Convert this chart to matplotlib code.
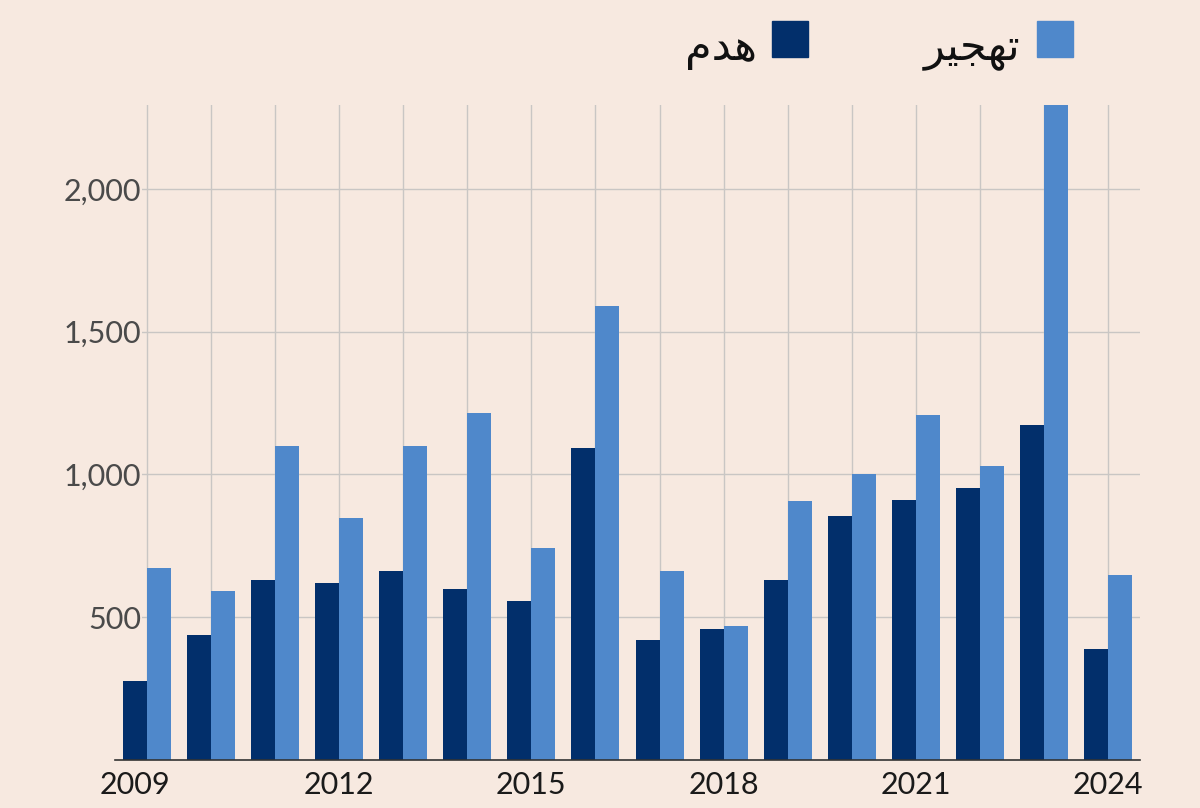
import matplotlib.pyplot as plt
import matplotlib.transforms as mtransforms
from matplotlib.patches import Rectangle
import numpy as np

years = list(range(2009, 2025))
demolition = [277, 438, 630, 620, 662, 599, 557, 1093, 420, 459, 630, 855, 911, 953, 1173, 389]
displacement = [672, 592, 1100, 848, 1100, 1215, 743, 1590, 662, 469, 907, 1002, 1208, 1030, 2294, 648]
series_labels = ["هدم", "تهجير"]
shown_years = [2009, 2012, 2015, 2018, 2021, 2024]
yticks = [500, 1000, 1500, 2000]

bg = "#f7e9e0"
dark = "#022f6b"
light = "#4f88cb"

# matplotlib has no arabic shaping, so map letters to their joined forms by hand
forms = {
    "ه": ("\ufee9", "\ufeea", "\ufeeb", "\ufeec"),
    "د": ("\ufea9", "\ufeaa", None, None),
    "م": ("\ufee1", "\ufee2", "\ufee3", "\ufee4"),
    "ت": ("\ufe95", "\ufe96", "\ufe97", "\ufe98"),
    "ج": ("\ufe9d", "\ufe9e", "\ufe9f", "\ufea0"),
    "ي": ("\ufef1", "\ufef2", "\ufef3", "\ufef4"),
    "ر": ("\ufead", "\ufeae", None, None),
}

def shape(word):
    out = []
    for i, ch in enumerate(word):
        prev_joins = i > 0 and forms[word[i - 1]][2] is not None
        next_ok = i < len(word) - 1 and forms[ch][2] is not None
        if prev_joins and next_ok:
            out.append(forms[ch][3])
        elif prev_joins:
            out.append(forms[ch][1])
        elif next_ok:
            out.append(forms[ch][2])
        else:
            out.append(forms[ch][0])
    return "".join(reversed(out))

plt.rcParams['font.family'] = ['Lato', 'DejaVu Sans']

fig = plt.figure(figsize=(12, 8.08), dpi=100, facecolor=bg)
ax = fig.add_axes([115 / 1200, 1 - 760 / 808, 1025 / 1200, 655 / 808])
ax.set_facecolor(bg)

x = np.arange(len(years))
w = 0.375
ax.bar(x - w / 2, demolition, w, color=dark, zorder=2)
ax.bar(x + w / 2, displacement, w, color=light, zorder=2)

ax.set_xlim(-0.5, len(years) - 0.5)
ax.set_ylim(0, max(displacement))

# vertical grid at every year, horizontal grid at y ticks
for xi in x:
    ax.axvline(xi, color="#c9c6c4", lw=1, zorder=0)
ax.set_yticks(yticks)
ax.set_yticklabels([f"{v:,}" for v in yticks])
ax.yaxis.grid(True, color="#c9c6c4", lw=1)
ax.set_axisbelow(True)
ax.tick_params(axis="y", length=0, pad=-19, labelsize=22, labelcolor="#4a4a4a")
for lab in ax.get_yticklabels():
    lab.set_bbox(dict(facecolor=bg, edgecolor="none", pad=0.5))

ax.set_xticks([years.index(y) for y in shown_years])
ax.set_xticklabels([str(y) for y in shown_years])
ax.tick_params(axis="x", length=0, pad=8, labelsize=22, labelcolor="#1a1a1a")
first = ax.get_xticklabels()[0]
first.set_transform(first.get_transform() + mtransforms.ScaledTranslation(-12 / 100, 0, fig.dpi_scale_trans))

for s in ["top", "right", "left"]:
    ax.spines[s].set_visible(False)
ax.spines["bottom"].set_color("#333333")
ax.spines["bottom"].set_linewidth(1.2)

# legend
fig.patches.append(Rectangle((772 / 1200, 1 - 57 / 808), 36 / 1200, 36 / 808,
                             transform=fig.transFigure, color=dark))
fig.patches.append(Rectangle((1037 / 1200, 1 - 57 / 808), 36 / 1200, 36 / 808,
                             transform=fig.transFigure, color=light))
fig.text(757 / 1200, 1 - 49 / 808, shape(series_labels[0]), ha="right", va="center",
         fontsize=31, family="DejaVu Sans", color="#111111")
fig.text(1020 / 1200, 1 - 49 / 808, shape(series_labels[1]), ha="right", va="center",
         fontsize=31, family="DejaVu Sans", color="#111111")

fig.savefig("out.png", dpi=100, facecolor=bg)
